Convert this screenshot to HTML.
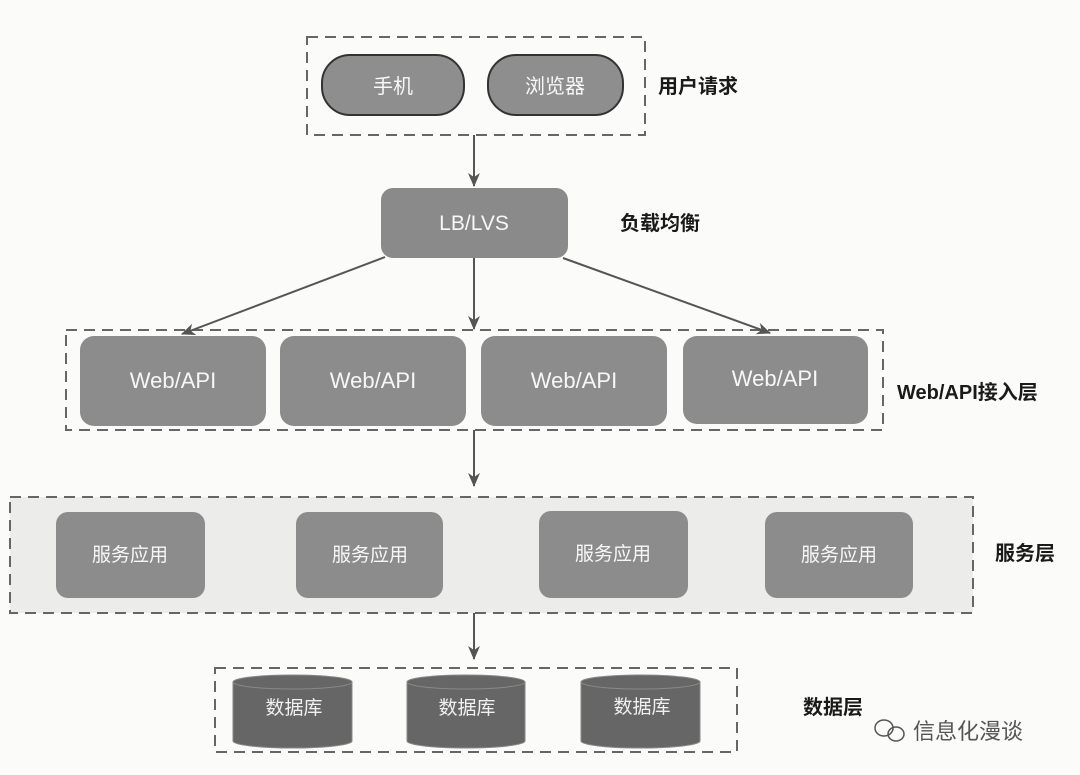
<!DOCTYPE html>
<html><head><meta charset="utf-8"><style>
html,body{margin:0;padding:0;background:#fbfbfa;}
svg{display:block}
text{font-family:"Liberation Sans","Noto Sans CJK SC",sans-serif;}
</style></head><body>
<svg width="1080" height="775" viewBox="0 0 1080 775" xmlns="http://www.w3.org/2000/svg">
<defs>
<marker id="ah" markerWidth="16" markerHeight="14" refX="13" refY="6" orient="auto" markerUnits="userSpaceOnUse">
<path d="M0,0 L14,6 L0,12 L4,6 Z" fill="#555"/>
</marker>
</defs>
<g stroke="#666" stroke-width="2" stroke-dasharray="11,7" fill="none">
<rect x="307" y="37" width="338" height="98"/>
<rect x="66" y="330" width="817" height="100"/>
<rect x="10" y="497" width="963" height="116" fill="#ececea"/>
<rect x="215" y="668" width="522" height="84"/>
</g>
<rect x="322" y="55" width="142" height="60" rx="28" fill="#8e8e8e" stroke="#333" stroke-width="2"/>
<rect x="488" y="55" width="135" height="60" rx="28" fill="#8e8e8e" stroke="#333" stroke-width="2"/>
<g fill="#f7f7f7" font-size="20" text-anchor="middle">
<text x="393" y="93">手机</text>
<text x="555" y="93">浏览器</text>
</g>
<rect x="381" y="188" width="187" height="70" rx="12" fill="#8a8a8a"/>
<text x="474" y="230" fill="#f7f7f7" font-size="21" text-anchor="middle">LB/LVS</text>
<g fill="#8c8c8c">
<rect x="80" y="336" width="186" height="90" rx="14"/>
<rect x="280" y="336" width="186" height="90" rx="14"/>
<rect x="481" y="336" width="186" height="90" rx="14"/>
<rect x="683" y="336" width="185" height="88" rx="14"/>
<rect x="56" y="512" width="149" height="86" rx="12"/>
<rect x="296" y="512" width="147" height="86" rx="12"/>
<rect x="539" y="511" width="149" height="87" rx="12"/>
<rect x="765" y="512" width="148" height="86" rx="12"/>
</g>
<g fill="#f7f7f7" font-size="22" text-anchor="middle">
<text x="173" y="388">Web/API</text>
<text x="373" y="388">Web/API</text>
<text x="574" y="388">Web/API</text>
<text x="775" y="386">Web/API</text>
</g>
<g fill="#f7f7f7" font-size="19" text-anchor="middle">
<text x="130" y="561">服务应用</text>
<text x="370" y="561">服务应用</text>
<text x="613" y="560">服务应用</text>
<text x="839" y="561">服务应用</text>
</g>
<g fill="#666" stroke="#888" stroke-width="1">
<path d="M233,682 L233,741 A59,7 0 0 0 352,741 L352,682 Z"/>
<ellipse cx="292.5" cy="682" rx="59.5" ry="7"/>
<path d="M407,682 L407,741 A59,7 0 0 0 525,741 L525,682 Z"/>
<ellipse cx="466" cy="682" rx="59" ry="7"/>
<path d="M581,682 L581,741 A59,7 0 0 0 700,741 L700,682 Z"/>
<ellipse cx="640.5" cy="682" rx="59.5" ry="7"/>
</g>
<g fill="#f0f0f0" font-size="19" text-anchor="middle">
<text x="294" y="714">数据库</text>
<text x="467" y="714">数据库</text>
<text x="642" y="713">数据库</text>
</g>
<g stroke="#555" stroke-width="2" marker-end="url(#ah)">
<line x1="474" y1="135" x2="474" y2="186"/>
<line x1="385" y1="257" x2="182" y2="334"/>
<line x1="474" y1="258" x2="474" y2="329"/>
<line x1="563" y1="258" x2="770" y2="333"/>
<line x1="474" y1="430" x2="474" y2="486"/>
<line x1="474" y1="613" x2="474" y2="659"/>
</g>
<g fill="#1a1a1a" font-size="20" font-weight="bold">
<text x="658" y="93">用户请求</text>
<text x="620" y="230">负载均衡</text>
<text x="897" y="399">Web/API接入层</text>
<text x="995" y="560">服务层</text>
<text x="803" y="714">数据层</text>
</g>
<g fill="none" stroke="#555" stroke-width="1.5">
<ellipse cx="884" cy="728" rx="9" ry="8"/>
<ellipse cx="896" cy="734" rx="8" ry="7"/>
</g>
<text x="913" y="739" fill="#555" font-size="22">信息化漫谈</text>
</svg>
</body></html>
